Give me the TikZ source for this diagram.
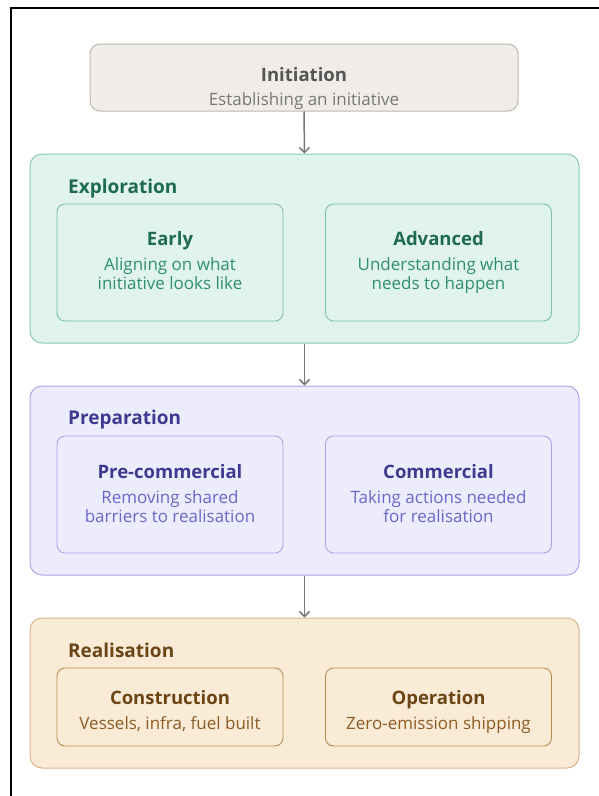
\documentclass[tikz,border=0pt]{standalone}
\usepackage{fontspec}
\setmainfont{Open Sans}
\usetikzlibrary{arrows.meta}
\definecolor{iniFill}{HTML}{F0EDE8}
\definecolor{iniDraw}{HTML}{BDB8B0}
\definecolor{iniTitle}{HTML}{555555}
\definecolor{iniText}{HTML}{777777}
\definecolor{expFill}{HTML}{E0F3EC}
\definecolor{expDraw}{HTML}{8CCBB0}
\definecolor{expSub}{HTML}{7DC0A2}
\definecolor{expTitle}{HTML}{1E6B50}
\definecolor{expText}{HTML}{2F8F6C}
\definecolor{preFill}{HTML}{EDECFC}
\definecolor{preDraw}{HTML}{ABA7E8}
\definecolor{preSub}{HTML}{A9A4E6}
\definecolor{preTitle}{HTML}{3F3A90}
\definecolor{preText}{HTML}{6C66C9}
\definecolor{reaFill}{HTML}{FAEBD7}
\definecolor{reaDraw}{HTML}{D6B68C}
\definecolor{reaSub}{HTML}{B98B50}
\definecolor{reaTitle}{HTML}{6B4516}
\definecolor{reaText}{HTML}{8C5C24}
\definecolor{arrowGray}{HTML}{777777}
\begin{document}
\begin{tikzpicture}[x=1pt,y=-1pt,
  container/.style={draw, line width=1pt, rounded corners=12pt, inner sep=0pt},
  subbox/.style={draw, line width=0.9pt, rounded corners=8pt, inner sep=0pt, minimum width=226pt, minimum height=117pt},
  boxtitle/.style={font=\fontsize{18.5}{22}\selectfont\bfseries, inner sep=0pt, anchor=base},
  grouptitle/.style={font=\fontsize{19}{22}\selectfont\bfseries, inner sep=0pt, anchor=base west},
  boxtext/.style={font=\fontsize{17}{20}\selectfont, inner sep=0pt, anchor=base},
  flow/.style={draw=arrowGray, line width=1.5pt, -{Straight Barb[length=5pt,width=10pt,line width=1.5pt]}}
]
\useasboundingbox (0,0) rectangle (599,796);
% page frame
\draw[line width=2pt] (11,796) -- (11,7.5) -- (599,7.5);

% Initiation
\node[container, rounded corners=10pt, fill=iniFill, draw=iniDraw, minimum width=428pt, minimum height=67pt] (ini) at (304,77.5) {};
\node[boxtitle, text=iniTitle] (iniT) at (304,81) {Initiation};
\node[boxtext, text=iniText] (iniS) at (304,105) {Establishing an initiative};

% Exploration
\node[container, fill=expFill, draw=expDraw, minimum width=549pt, minimum height=189pt] (exp) at (304.5,248.5) {};
\node[grouptitle, text=expTitle] (expT) at (68,193) {Exploration};
\node[subbox, fill=expFill, draw=expSub] (early) at (170,262.5) {};
\node[subbox, fill=expFill, draw=expSub] (adv) at (438.5,262.5) {};
\node[boxtitle, text=expTitle] (earlyT) at (170,245) {Early};
\node[boxtext, text=expText] (earlyS1) at (170,270) {Aligning on what};
\node[boxtext, text=expText] (earlyS2) at (170,289) {initiative looks like};
\node[boxtitle, text=expTitle] (advT) at (438.5,245) {Advanced};
\node[boxtext, text=expText] (advS1) at (438.5,270) {Understanding what};
\node[boxtext, text=expText] (advS2) at (438.5,289) {needs to happen};

% Preparation
\node[container, fill=preFill, draw=preDraw, minimum width=549pt, minimum height=189pt] (prep) at (304.5,480.5) {};
\node[grouptitle, text=preTitle] (prepT) at (68,424) {Preparation};
\node[subbox, fill=preFill, draw=preSub] (precom) at (170,494.5) {};
\node[subbox, fill=preFill, draw=preSub] (com) at (438.5,494.5) {};
\node[boxtitle, text=preTitle] (precomT) at (170,478) {Pre-commercial};
\node[boxtext, text=preText] (precomS1) at (170,503) {Removing shared};
\node[boxtext, text=preText] (precomS2) at (170,522) {barriers to realisation};
\node[boxtitle, text=preTitle] (comT) at (438.5,478) {Commercial};
\node[boxtext, text=preText] (comS1) at (438.5,503) {Taking actions needed};
\node[boxtext, text=preText] (comS2) at (438.5,522) {for realisation};

% Realisation
\node[container, fill=reaFill, draw=reaDraw, minimum width=549pt, minimum height=150pt] (rea) at (304.5,693) {};
\node[grouptitle, text=reaTitle] (reaT) at (68,657) {Realisation};
\node[subbox, fill=reaFill, draw=reaSub, minimum height=78pt] (cons) at (170,707) {};
\node[subbox, fill=reaFill, draw=reaSub, minimum height=78pt] (oper) at (438.5,707) {};
\node[boxtitle, text=reaTitle] (consT) at (170,704) {Construction};
\node[boxtext, text=reaText] (consS) at (170,729) {Vessels, infra, fuel built};
\node[boxtitle, text=reaTitle] (operT) at (438.5,704) {Operation};
\node[boxtext, text=reaText] (operS) at (438.5,729) {Zero-emission shipping};

% flow arrows
\draw[flow] (ini.south) -- (exp.north);
\draw[flow] (exp.south) -- (prep.north);
\draw[flow] (prep.south) -- (rea.north);
\end{tikzpicture}
\end{document}
